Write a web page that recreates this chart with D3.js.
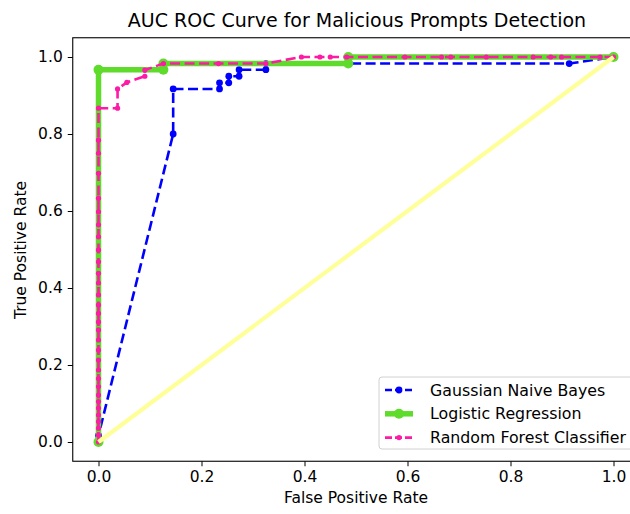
<!DOCTYPE html>
<html><head><meta charset="utf-8">
<script src="https://cdn.jsdelivr.net/npm/d3@7"></script>
<style>
html,body{margin:0;padding:0;background:#fff;overflow:hidden}
text{font-family:"DejaVu Sans",sans-serif;fill:#000}
</style></head><body>
<svg id="chart" width="630" height="514"></svg>
<script>
const title = "AUC ROC Curve for Malicious Prompts Detection";
const xLabel = "False Positive Rate";
const yLabel = "True Positive Rate";
const tickValues = [0.0, 0.2, 0.4, 0.6, 0.8, 1.0];
const seriesNames = ["Gaussian Naive Bayes", "Logistic Regression", "Random Forest Classifier"];

const gnbFPR = [0, 0, 0.145, 0.145, 0.235, 0.235, 0.253, 0.253, 0.273, 0.273, 0.325, 0.325, 0.914, 1];
const gnbTPR = [0, 0.017, 0.8, 0.917, 0.917, 0.933, 0.933, 0.95, 0.95, 0.967, 0.967, 0.983, 0.983, 1];

const lrFPR = [0, 0, 0.126, 0.126, 0.485, 0.485, 1];
const lrTPR = [0, 0.967, 0.967, 0.983, 0.983, 1, 1];

const rfFPR = [0,0,0,0,0,0,0,0,0,0,0,0,0,0,0,0,0,0,0,0,0,0,0,0,0,0,0,0,0,0,0,
  0.037, 0.037, 0.055, 0.09, 0.09, 0.126, 0.233, 0.325, 0.394, 0.43, 0.45, 0.482,
  0.595, 0.666, 0.684, 0.753, 0.844, 0.878, 0.899, 0.974, 1];
const rfTPR = [0, 0.018, 0.036, 0.053, 0.070, 0.088, 0.105, 0.122, 0.144, 0.165, 0.187,
  0.213, 0.239, 0.265, 0.291, 0.312, 0.334, 0.356, 0.382, 0.413, 0.438, 0.468, 0.499,
  0.533, 0.564, 0.598, 0.633, 0.698, 0.750, 0.784, 0.867,
  0.867, 0.917, 0.934, 0.95, 0.966, 0.983, 0.983, 0.983, 1, 1, 1, 1,
  1, 1, 1, 1, 1, 1, 1, 1, 1];

const diagFPR = [0, 1];
const diagTPR = [0, 1];

const svg = d3.select("#chart");
const x = d3.scaleLinear().domain([-0.05, 1.05]).range([72.75, 639.25]);
const y = d3.scaleLinear().domain([-0.05, 1.05]).range([461.25, 37.75]);

const zip = (a, b) => a.map((v, i) => [v, b[i]]);
const line = d3.line().x(d => x(d[0])).y(d => y(d[1]));

const plot = svg.append("g");

// Gaussian NB
const gnb = zip(gnbFPR, gnbTPR);
plot.append("path").attr("d", line(gnb)).attr("fill", "none")
  .attr("stroke", "#0000ff").attr("stroke-width", 2.6).attr("stroke-dasharray", "10,4.5");
plot.selectAll(".gnbm").data(gnb).enter().append("circle")
  .attr("cx", d => x(d[0])).attr("cy", d => y(d[1])).attr("r", 3.4).attr("fill", "#0000ff");

// Logistic Regression
const lr = zip(lrFPR, lrTPR);
const green = "#5fdc2b";
plot.append("path").attr("d", line(lr)).attr("fill", "none")
  .attr("stroke", green).attr("stroke-width", 5.5);
plot.selectAll(".lrm").data(lr).enter().append("circle")
  .attr("cx", d => x(d[0])).attr("cy", d => y(d[1])).attr("r", 5).attr("fill", green);

// Random Forest
const rf = zip(rfFPR, rfTPR);
const pink = "#ff1aa6";
plot.append("path").attr("d", line(rf)).attr("fill", "none")
  .attr("stroke", pink).attr("stroke-width", 2.6).attr("stroke-dasharray", "10,4.5");
plot.selectAll(".rfm").data(rf).enter().append("circle")
  .attr("cx", d => x(d[0])).attr("cy", d => y(d[1])).attr("r", 2.6).attr("fill", pink);

// Diagonal
plot.append("path").attr("d", line(zip(diagFPR, diagTPR))).attr("fill", "none")
  .attr("stroke", "#ffff99").attr("stroke-width", 4.2);

// Axes
const xAxis = d3.axisBottom(x).tickValues(tickValues).tickFormat(d3.format(".1f")).tickSizeOuter(0).tickSize(5).tickPadding(5);
const yAxis = d3.axisLeft(y).tickValues(tickValues).tickFormat(d3.format(".1f")).tickSizeOuter(0).tickSize(5).tickPadding(5);
const gx = svg.append("g").attr("transform", `translate(0,${y.range()[0]})`).call(xAxis);
const gy = svg.append("g").attr("transform", `translate(${x.range()[0]},0)`).call(yAxis);
[gx, gy].forEach(g => {
  g.select(".domain").remove();
  g.selectAll("line").attr("stroke", "#000").attr("stroke-width", 1);
  g.selectAll("text").style("font-family", "DejaVu Sans").style("font-size", "15.5px").attr("fill", "#000");
});
// spines
svg.append("rect").attr("x", x.range()[0]).attr("y", y.range()[1])
  .attr("width", x.range()[1] - x.range()[0]).attr("height", y.range()[0] - y.range()[1])
  .attr("fill", "none").attr("stroke", "#000").attr("stroke-width", 1.1);

// Labels
svg.append("text").attr("x", 357).attr("y", 27).attr("text-anchor", "middle")
  .style("font-size", "19px").text(title);
svg.append("text").attr("x", 356).attr("y", 503).attr("text-anchor", "middle")
  .style("font-size", "15.5px").text(xLabel);
svg.append("text").attr("transform", "translate(26,250) rotate(-90)").attr("text-anchor", "middle")
  .style("font-size", "15.5px").text(yLabel);

// Legend
const lg = svg.append("g");
lg.append("rect").attr("x", 379).attr("y", 377).attr("width", 256).attr("height", 72)
  .attr("rx", 3).attr("fill", "#fff").attr("fill-opacity", 0.8).attr("stroke", "#d0d0d0");
const legendStyles = [
  {color: "#0000ff", w: 2.6, dash: "7,3", r: 3.4},
  {color: green, w: 5.5, dash: null, r: 5},
  {color: pink, w: 2.6, dash: "7,3", r: 2.6}
];
seriesNames.forEach((name, i) => {
  const cy = 390 + i * 23.8;
  const s = legendStyles[i];
  const l = lg.append("line").attr("x1", 385).attr("x2", 413).attr("y1", cy).attr("y2", cy)
    .attr("stroke", s.color).attr("stroke-width", s.w);
  if (s.dash) l.attr("stroke-dasharray", s.dash);
  lg.append("circle").attr("cx", 399).attr("cy", cy).attr("r", s.r).attr("fill", s.color);
  lg.append("text").attr("x", 430).attr("y", cy + 5.5).style("font-size", "15.8px").text(name);
});
</script>
</body></html>
